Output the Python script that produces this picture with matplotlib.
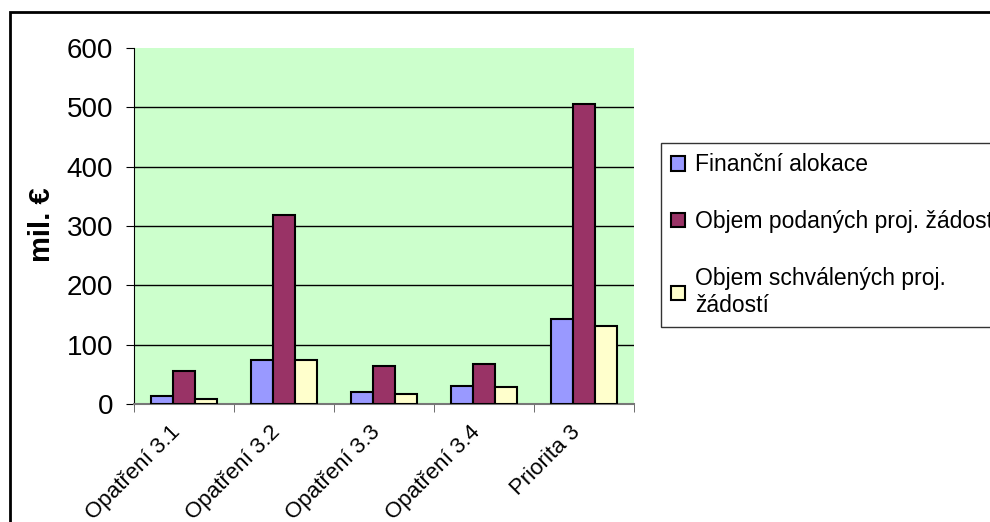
import matplotlib.pyplot as plt
import numpy as np
from matplotlib.patches import Rectangle
from matplotlib.transforms import ScaledTranslation

categories = ['Opatření 3.1', 'Opatření 3.2', 'Opatření 3.3', 'Opatření 3.4', 'Priorita 3']
series_names = ['Finanční alokace', 'Objem podaných proj. žádostí', 'Objem schválených proj.\nžádostí']
alokace = [13, 75, 21, 31, 143]
podane = [56, 318, 64, 68, 505]
schvalene = [9, 74, 17, 28, 132]
colors = ['#9999FF', '#993366', '#FFFFCC']

plt.rcParams['font.family'] = ['Liberation Sans', 'DejaVu Sans']

fig = plt.figure(figsize=(9.9, 5.22), dpi=100)
ax = fig.add_axes([134/990, 1 - 404/522, 500/990, 356/522])
ax.set_facecolor('#CCFFCC')

x = np.arange(len(categories))
w = 0.22
for i, vals in enumerate([alokace, podane, schvalene]):
    ax.bar(x + (i - 1) * w, vals, width=w, color=colors[i], edgecolor='black',
           linewidth=1.5, label=series_names[i], zorder=3)

ax.set_xlim(-0.5, len(categories) - 0.5)
ax.set_ylim(0, 600)
ax.set_yticks(range(0, 601, 100))
for yv in range(100, 600, 100):
    ax.axhline(yv, color='black', linewidth=1, zorder=1)

ax.set_xticks(x)
ax.set_xticklabels(categories, rotation=45, ha='right', rotation_mode='anchor', fontsize=16)
ax.set_xticks(np.arange(-0.5, len(categories)), minor=True)
ax.tick_params(axis='x', which='major', length=0, pad=13)
ax.tick_params(axis='x', which='minor', length=6, color='#555555', direction='out')
ax.tick_params(axis='y', length=6, direction='out', labelsize=20, pad=9)
shift = ScaledTranslation(-14/100, 0, fig.dpi_scale_trans)
for lbl in ax.get_xticklabels():
    lbl.set_transform(lbl.get_transform() + shift)

for s in ['top', 'right']:
    ax.spines[s].set_visible(False)
ax.spines['left'].set_color('black')
ax.spines['bottom'].set_color('#777777')
ax.spines['bottom'].set_linewidth(1.5)

fig.text(42/990, 1 - 225/522, 'mil. €', rotation=90, fontsize=21, fontweight='bold',
         ha='center', va='center')

leg = ax.legend(loc='upper left', bbox_to_anchor=(661/990, 1 - 143/522),
                bbox_transform=fig.transFigure, fontsize=16.5, frameon=True,
                fancybox=False, edgecolor='black', handlelength=0.6, handleheight=0.6,
                handletextpad=0.45, labelspacing=1.48, borderpad=0.45, borderaxespad=0)
leg.get_frame().set_linewidth(1)

fig.patches.append(Rectangle((10/990, -0.1), 1.2, 1.1 - 12/522, transform=fig.transFigure,
                             fill=False, edgecolor='black', linewidth=2, clip_on=False))

fig.savefig('out.png', dpi=100)
